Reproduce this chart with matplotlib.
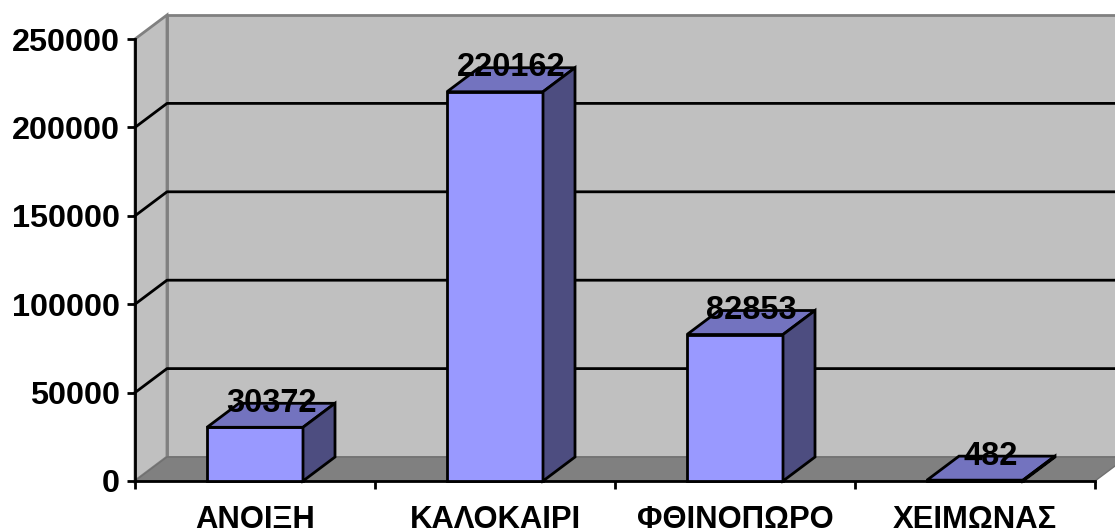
import numpy as np
import matplotlib.pyplot as plt

seasons = ["ΑΝΟΙΞΗ", "ΚΑΛΟΚΑΙΡΙ", "ΦΘΙΝΟΠΩΡΟ", "ΧΕΙΜΩΝΑΣ"]
visitors = [30372, 220162, 82853, 482]
yticks = [0, 50000, 100000, 150000, 200000, 250000]

plt.rcParams['font.family'] = ['Liberation Sans', 'DejaVu Sans']
plt.rcParams['font.weight'] = 'bold'

fig = plt.figure(figsize=(11.15, 5.29), dpi=100)
ax = fig.add_axes([135/1115, 48/529, 960/1115, 442/529])
ax.set_xlim(-0.5, 3.5)
ax.set_ylim(0, 250000)
ax.patch.set_visible(False)

# depth of the fake 3d box, in data units
dx = 32/240.
dy = 24/442. * 250000
x0, x1 = -0.5, 3.5
ytop = yticks[-1]
wall_grey = '#c0c0c0'
edge_grey = '#808080'
lw = 2

# back wall, side wall, floor
ax.fill([x0+dx, x1+dx, x1+dx, x0+dx], [dy, dy, ytop+dy, ytop+dy], fc=wall_grey, ec=edge_grey, lw=lw, clip_on=False, zorder=0)
ax.fill([x0, x0+dx, x0+dx, x0], [0, dy, ytop+dy, ytop], fc=wall_grey, ec=edge_grey, lw=lw, clip_on=False, zorder=0)
ax.fill([x0, x1, x1+dx, x0+dx], [0, 0, dy, dy], fc=edge_grey, ec='#707070', lw=1, clip_on=False, zorder=0.5)
for t in yticks[1:-1]:
    ax.plot([x0, x0+dx, x1+dx], [t, t+dy, t+dy], color='black', lw=lw, clip_on=False, zorder=1)

# bars
w = 0.2
for i, v in enumerate(visitors):
    ax.bar(i, v, width=2*w, color='#9999ff', edgecolor='black', lw=lw, zorder=3, clip_on=False)
    ax.fill([i-w, i+w, i+w+dx, i-w+dx], [v, v, v+dy, v+dy], fc='#7373bf', ec='black', lw=lw, zorder=3, clip_on=False)
    ax.fill([i+w, i+w+dx, i+w+dx, i+w], [0, dy, v+dy, v], fc='#4d4d80', ec='black', lw=lw, zorder=3, clip_on=False)
    ax.text(i+dx/2, v+dy, str(v), ha='center', va='center', fontsize=23.5,
            fontweight='bold', zorder=5)

for s in ['top', 'right']:
    ax.spines[s].set_visible(False)
for s in ['left', 'bottom']:
    ax.spines[s].set_linewidth(lw)
    ax.spines[s].set_zorder(2)

ax.set_yticks(yticks)
ax.set_yticklabels([str(t) for t in yticks], fontsize=23.3, fontweight='bold')
ax.tick_params(axis='y', direction='out', length=6, width=lw, pad=5)

ax.set_xticks(range(len(seasons)))
ax.set_xticklabels(seasons, fontsize=22.3, fontweight='bold')
ax.set_xticks(np.arange(-0.5, len(seasons)), minor=True)
ax.tick_params(axis='x', which='major', length=0, pad=17)
ax.tick_params(axis='x', which='minor', direction='out', length=6, width=lw)

fig.savefig('out.png', dpi=100, facecolor='white')
